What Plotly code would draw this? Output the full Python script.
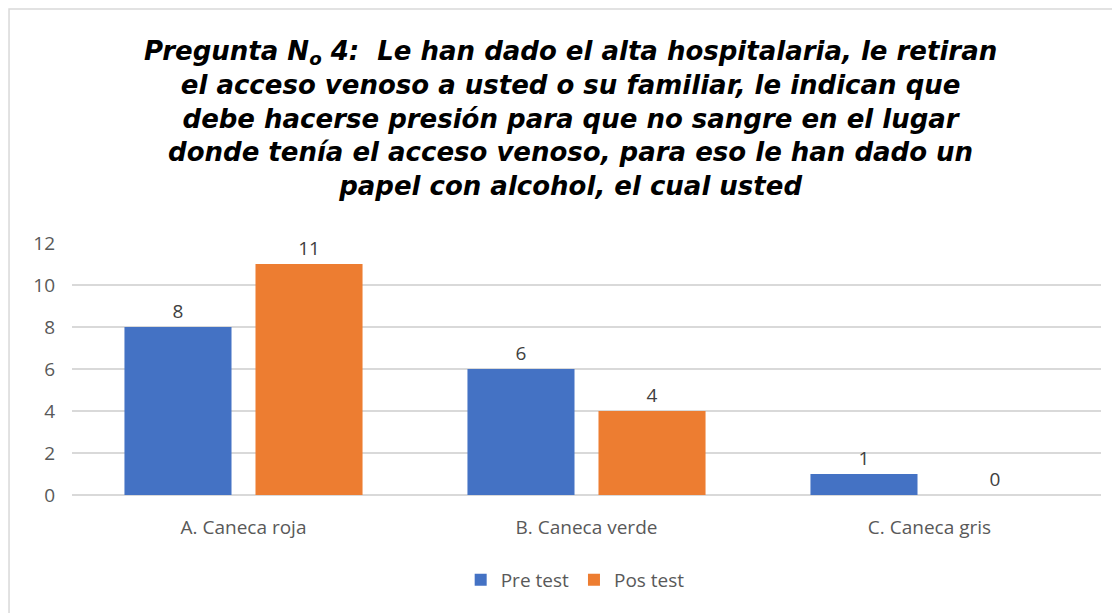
import plotly.graph_objects as go

CATEGORIES = ["A. Caneca roja", "B. Caneca verde", "C. Caneca gris"]
PRE_TEST = [8, 6, 1]
POS_TEST = [11, 4, 0]
Y_TICKS = [0, 2, 4, 6, 8, 10, 12]

TITLE = (
    "Pregunta N<sub>o</sub> 4: &nbsp;Le han dado el alta hospitalaria, le retiran<br>"
    "el acceso venoso a usted o su familiar, le indican que<br>"
    "debe hacerse presión para que no sangre en el lugar<br>"
    "donde tenía el acceso venoso, para eso le han dado un<br>"
    "papel con alcohol, el cual usted"
)

BLUE = "#4472C4"
ORANGE = "#ED7D31"
GRID = "#D9D9D9"
TEXT = "#595959"
FONT = "'Open Sans', sans-serif"

fig = go.Figure()
for name, vals, color in [("Pre test", PRE_TEST, BLUE), ("Pos test", POS_TEST, ORANGE)]:
    fig.add_trace(go.Bar(
        x=CATEGORIES, y=vals, name=name,
        marker=dict(color=color, line=dict(width=0)),
        text=vals, textposition="outside",
        textfont=dict(size=19, color="#404040", family=FONT),
        cliponaxis=False,
    ))

# light grey chart frame
fig.add_shape(
    type="rect", xref="paper", yref="paper",
    x0=-0.0612, x1=1.05, y0=-0.6, y1=1.929,
    line=dict(color=GRID, width=1.5), fillcolor="rgba(0,0,0,0)",
    layer="below",
)

fig.add_annotation(
    text=TITLE, xref="paper", yref="paper", x=0.484, y=1.495,
    xanchor="center", yanchor="middle", showarrow=False,
    font=dict(family="'DejaVu Sans', sans-serif", size=26,
              color="#000000", weight="bold", style="italic"),
)

fig.update_layout(
    width=1120, height=613,
    paper_bgcolor="white", plot_bgcolor="white",
    margin=dict(l=64, r=27, t=235, b=126),
    barmode="group", bargap=0.236, bargroupgap=0.183,
    font=dict(family=FONT, color=TEXT, size=19),
    showlegend=True,
    legend=dict(
        orientation="h", x=0.489, xanchor="center", y=-0.337, yanchor="middle",
        font=dict(size=19, color=TEXT), itemwidth=30,
    ),
    xaxis=dict(showline=False, ticks="", tickfont=dict(size=19, color=TEXT),
               ticklabelstandoff=19),
    yaxis=dict(
        range=[0, 12], tickvals=Y_TICKS, showgrid=True, gridcolor=GRID,
        gridwidth=1.5, zeroline=True, zerolinecolor=GRID, zerolinewidth=1.5,
        tickfont=dict(size=19, color=TEXT), ticklabelstandoff=16,
    ),
)

fig.write_html("out.html")
